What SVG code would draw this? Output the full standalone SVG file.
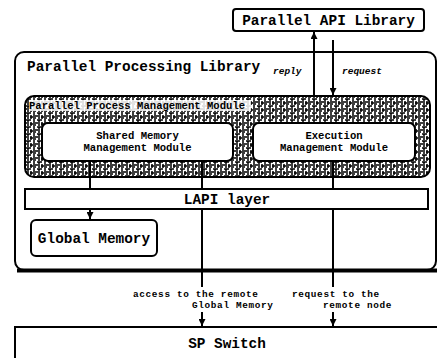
<svg xmlns="http://www.w3.org/2000/svg" width="437" height="358" viewBox="0 0 437 358">
<style>
  .box { fill: #fff; stroke: #000; stroke-width: 2; }
  .big { font-family: "Liberation Mono", "DejaVu Sans Mono", monospace; font-weight: bold; font-size: 14.4px; fill: #000; }
  .small { font-family: "Liberation Mono", "DejaVu Sans Mono", monospace; font-weight: bold; font-size: 10.6px; fill: #000; }
  .note { font-family: "Liberation Mono", "DejaVu Sans Mono", monospace; font-weight: bold; font-size: 9.4px; letter-spacing: 0.65px; fill: #000; }
  .lbl { font-family: "Liberation Mono", "DejaVu Sans Mono", monospace; font-weight: bold; font-style: italic; font-size: 9.5px; fill: #000; }
  .wire { stroke: #000; stroke-width: 2; fill: none; }
</style>
<defs>
  <pattern id="hatch" width="11" height="7" patternUnits="userSpaceOnUse">
    <rect width="11" height="7" fill="#fff"/>
    <path d="M1 0V5M4 1H9M6 1V7M2 4H5M9 3V7M0 6H3M8 5H11" stroke="#000" stroke-width="1.5"/>
  </pattern>
  <marker id="ah" viewBox="0 0 8 8" refX="8" refY="4" markerWidth="7" markerHeight="7" markerUnits="userSpaceOnUse" orient="auto">
    <path d="M0 0L8 4L0 8Z" fill="#000"/>
  </marker>
</defs>

<g id="ppl">
  <rect class="box" x="15" y="52" width="421" height="218" rx="9"/>
  <path d="M17 270.5H437" stroke="#000" stroke-width="4"/>
  <text class="big" x="27" y="71">Parallel Processing Library</text>
</g>

<g id="api">
  <rect class="box" x="233" y="9" width="191" height="22" rx="3"/>
  <text class="big" x="328.5" y="25" text-anchor="middle">Parallel API Library</text>
</g>

<g id="ppmm">
  <rect x="25" y="96" width="405" height="81" rx="9" fill="url(#hatch)" stroke="#000" stroke-width="2"/>
  <rect x="29" y="100" width="222" height="11" fill="#fff" opacity="0.85"/>
  <text class="small" x="29" y="109">Parallel Process Management Module</text>
</g>

<g id="shared">
  <rect class="box" x="42" y="123" width="191" height="38" rx="6"/>
  <text class="small" x="137.5" y="139" text-anchor="middle">Shared Memory</text>
  <text class="small" x="137.5" y="151" text-anchor="middle">Management Module</text>
</g>

<g id="execution">
  <rect class="box" x="253" y="123" width="162" height="38" rx="6"/>
  <text class="small" x="334" y="139" text-anchor="middle">Execution</text>
  <text class="small" x="334" y="151" text-anchor="middle">Management Module</text>
</g>

<g id="lapi">
  <rect class="box" x="25" y="189" width="403" height="20"/>
  <text class="big" x="227" y="204" text-anchor="middle">LAPI layer</text>
</g>

<g id="global">
  <rect class="box" x="31" y="220" width="126" height="36" rx="5"/>
  <text class="big" x="94" y="243" text-anchor="middle">Global Memory</text>
</g>

<g id="spswitch">
  <rect class="box" x="15" y="327" width="440" height="50"/>
  <text class="big" x="227" y="348" text-anchor="middle">SP Switch</text>
</g>

<g id="connectors">
  <line class="wire" x1="314" y1="96" x2="314" y2="32" marker-end="url(#ah)"/>
  <line class="wire" x1="333" y1="40" x2="333" y2="95" marker-end="url(#ah)"/>
  <text class="lbl" x="273" y="74">reply</text>
  <text class="lbl" x="342" y="74">request</text>

  <line class="wire" x1="90" y1="161" x2="90" y2="189"/>
  <line class="wire" x1="202" y1="161" x2="202" y2="189"/>
  <line class="wire" x1="333" y1="161" x2="333" y2="189"/>

  <line class="wire" x1="90" y1="209" x2="90" y2="219" marker-end="url(#ah)"/>
  <line class="wire" x1="202" y1="209" x2="202" y2="287"/>
  <line class="wire" x1="333" y1="209" x2="333" y2="287"/>
  <line class="wire" x1="202" y1="312" x2="202" y2="326" marker-end="url(#ah)"/>
  <line class="wire" x1="333" y1="312" x2="333" y2="326" marker-end="url(#ah)"/>

  <text class="note" x="133" y="297">access to the remote</text>
  <text class="note" x="192" y="308">Global Memory</text>
  <text class="note" x="292" y="297">request to the</text>
  <text class="note" x="323" y="308">remote node</text>
</g>
</svg>
